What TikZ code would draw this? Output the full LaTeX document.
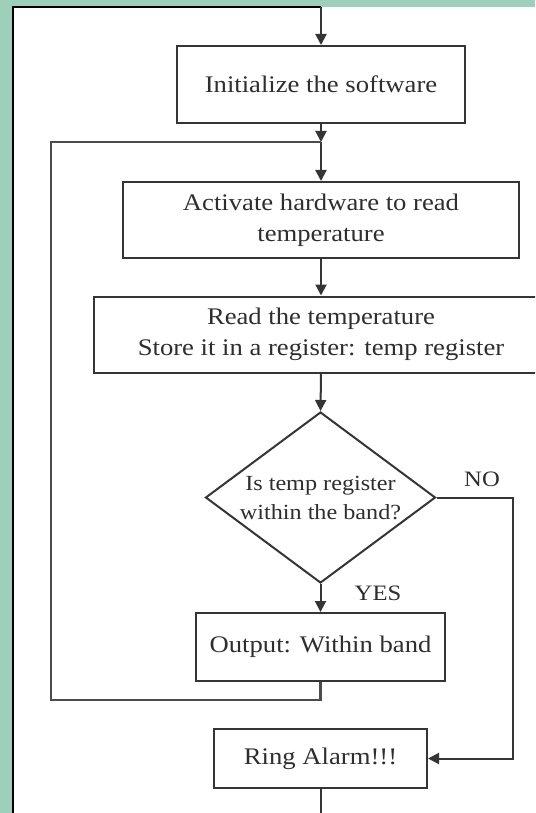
\documentclass[tikz,border=0pt]{standalone}
\usepackage{fontspec}
\setmainfont{Liberation Serif}[FakeStretch=1.12]
\usetikzlibrary{shapes.geometric,arrows.meta}
\definecolor{bgteal}{HTML}{9DCFBA}
\definecolor{linegray}{HTML}{353535}
\definecolor{textgray}{HTML}{2E2E2E}
\begin{document}
\begin{tikzpicture}[x=1pt,y=-1pt,
  box/.style={draw=linegray, line width=2pt, fill=white, inner sep=0pt, align=center,
    text=textgray, font=\fontsize{23.8}{31}\selectfont},
  decbox/.style={diamond, draw=linegray, line width=2pt, fill=white, inner sep=0pt,
    align=center, aspect=1.345, minimum width=230pt, minimum height=171pt,
    text=textgray, font=\fontsize{21.6}{29}\selectfont},
  lbl/.style={text=textgray, font=\fontsize{22}{25}\selectfont, inner sep=0pt},
  wire/.style={draw=linegray, line width=2pt},
  flow/.style={wire, -{Triangle[length=11pt,width=11pt]}}
]
\useasboundingbox (0,0) rectangle (535,813);
\clip (0,0) rectangle (535,813);
\fill[bgteal] (0,0) rectangle (535,813);
\fill[white] (13,7) rectangle (535,813);

\node[box, minimum width=288pt, minimum height=77pt] (init) at (321,84.5) {Initialize the software};
\coordinate (j) at (321,142);
\node[box, minimum width=396pt, minimum height=76pt] (act) at (321,220) {Activate hardware to read\\temperature};
\node[box, minimum width=454pt, minimum height=76pt] (read) at (321,334.5) {Read the temperature\\Store it in a register: temp register};
\node[decbox] (dec) at (320.5,497.5) {Is temp register\\within the band?};
\node[box, minimum width=249pt, minimum height=68pt] (out) at (320.5,647) {Output: Within band};
\node[box, minimum width=213pt, minimum height=59pt] (ring) at (320.5,758.5) {Ring Alarm!!!};
\node[lbl] (yes) at (378,593) {YES};
\node[lbl] (no) at (482,479) {NO};

\coordinate (entry) at (13,813);
\coordinate (exit) at (320.5,813);

\draw[wire, line width=2.2pt, draw=black] (entry) -- (13,7) -- (321,7);
\draw[flow] (321,7) -- (init.north);
\draw[flow] (init.south) -- (j);
\draw[flow] (j) -- (act.north);
\draw[flow] (act.south) -- (read.north);
\draw[flow] (read.south) -- (dec.north);
\draw[flow] (dec.south) -- (out.north);
\draw[flow] (dec.east) -- (513,497.5) |- (ring.east);
\draw[wire, draw=black!70, line width=2.4pt] (out.south) |- (51,700) -- (51,142) -- (j);
\draw[wire] (ring.south) -- (exit);
\end{tikzpicture}
\end{document}
